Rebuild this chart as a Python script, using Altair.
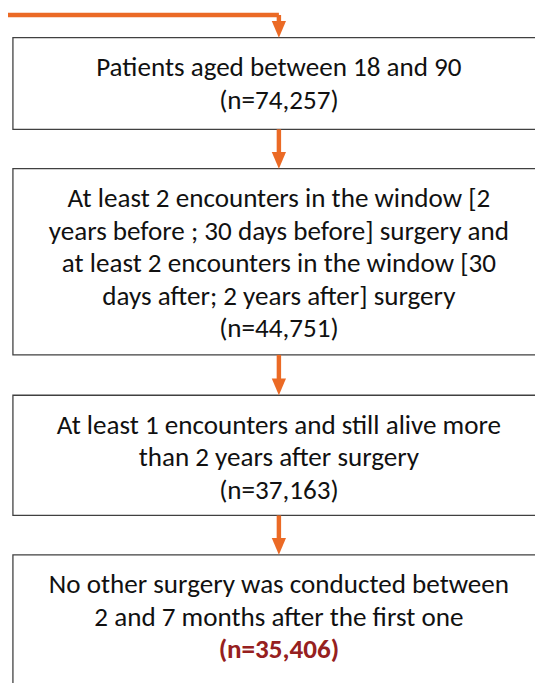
import altair as alt
import pandas as pd

# ---- content ----
step_lines = [
    ["Patients aged between 18 and 90"],
    ["At least 2 encounters in the window [2",
     "years before ; 30 days before] surgery and",
     "at least 2 encounters in the window [30",
     "days after; 2 years after] surgery"],
    ["At least 1 encounters and still alive more",
     "than 2 years after surgery"],
    ["No other surgery was conducted between",
     "2 and 7 months after the first one"],
]
counts = ["74,257", "44,751", "37,163", "35,406"]

# ---- layout (page pixel coordinates) ----
box_top = [33, 166, 396, 558]
box_bottom = [126, 355, 518, 700]
box_left = 13
box_right = 553
center_x = 283
first_line_offset = 31
line_gap = 33
head_len = 17

ORANGE = "#EB6A25"
DARK_RED = "#962020"
FONT = "Carlito, Lato"
FS = 27.5

boxes = pd.DataFrame({
    "x": [box_left] * 4, "x2": [box_right] * 4,
    "y": box_top, "y2": box_bottom,
})

rows = []
for i, lines in enumerate(step_lines):
    all_lines = lines + [f"(n={counts[i]})"]
    for j, t in enumerate(all_lines):
        is_n = j == len(all_lines) - 1
        final = is_n and i == len(step_lines) - 1
        rows.append({
            "x": center_x,
            "y": box_top[i] + first_line_offset + j * line_gap,
            "text": t,
            "kind": "final" if final else "normal",
        })
texts = pd.DataFrame(rows)

# arrows: from previous box bottom (or top connector) to next box top
arrow_start = [10] + box_bottom[:-1]
shafts = pd.DataFrame({
    "x": [center_x] * 4,
    "y": arrow_start,
    "y2": [t - head_len + 1 for t in box_top],
})
heads = pd.DataFrame({
    "x": [center_x] * 4,
    "y": [t - head_len / 2 for t in box_top],
})
top_line = pd.DataFrame({"x": [0], "x2": [center_x], "y": [10]})

xs = alt.Scale(domain=[8, 543], range=[0, 535])
ys = alt.Scale(domain=[8, 683], range=[0, 675])
X = lambda f: alt.X(f"{f}:Q", scale=xs, axis=None)
Y = lambda f: alt.Y(f"{f}:Q", scale=ys, axis=None)

rects = alt.Chart(boxes).mark_rect(
    fill="white", stroke="#404040", strokeWidth=1.3
).encode(x=X("x"), x2="x2", y=Y("y"), y2="y2")

shaft = alt.Chart(shafts).mark_rule(
    color=ORANGE, strokeWidth=4.5
).encode(x=X("x"), y=Y("y"), y2="y2")

hline = alt.Chart(top_line).mark_rule(
    color=ORANGE, strokeWidth=4.5
).encode(x=X("x"), x2="x2", y=Y("y"))

head = alt.Chart(heads).mark_point(
    shape="M-0.85,-1L0.85,-1L0,1Z", size=(head_len) ** 2,
    filled=True, color=ORANGE, opacity=1, strokeWidth=0
).encode(x=X("x"), y=Y("y"))

normal_text = alt.Chart(texts).transform_filter(
    alt.datum.kind == "normal"
).mark_text(
    font=FONT, fontSize=FS, color="#111111", baseline="middle", align="center"
).encode(x=X("x"), y=Y("y"), text="text:N")

final_text = alt.Chart(texts).transform_filter(
    alt.datum.kind == "final"
).mark_text(
    font=FONT, fontSize=FS, fontWeight="bold", color=DARK_RED,
    baseline="middle", align="center"
).encode(x=X("x"), y=Y("y"), text="text:N")

chart = alt.layer(
    rects, shaft, hline, head, normal_text, final_text
).properties(
    width=535, height=675, padding=0,
    autosize=alt.AutoSizeParams(type="none"),
    background="white",
).configure_view(stroke=None)

chart.save("out.html", embed_options={"renderer": "svg", "actions": False})
